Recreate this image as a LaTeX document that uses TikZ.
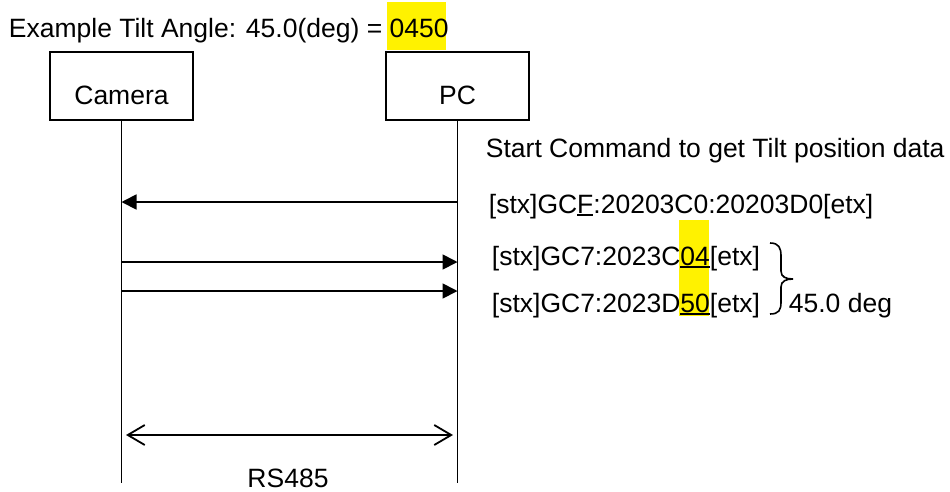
\documentclass[tikz,border=0pt]{standalone}
\usepackage{fontspec}
\setmainfont{Liberation Sans}
\usetikzlibrary{arrows.meta,decorations.pathreplacing}
\newcommand\myul[1]{\setbox0\hbox{#1}\rlap{\rule[-2.5pt]{\wd0}{1.6pt}}\box0}
\begin{document}
\begin{tikzpicture}[x=1pt,y=-1pt,
  font=\fontsize{26.5}{32}\selectfont, line width=1.8pt,
  actor/.style={draw, minimum width=143pt, minimum height=68pt, inner sep=0pt, text height=37pt, text depth=0pt},
  lbl/.style={anchor=base west, inner sep=0pt},
  msg/.style={-{Triangle[length=15pt,width=15pt]}},
  bus/.style={{Straight Barb[length=17pt,width=20pt]}-{Straight Barb[length=17pt,width=20pt]}},
  hl/.style={fill=yellow, draw=none},
  bracestyle/.style={line width=1.6pt}]
\useasboundingbox (0,0) rectangle (950,491);
% highlights
\fill[hl] (387,2) rectangle (446,50);
\fill[hl] (679,220) rectangle (709,316);
% title
\node[lbl] (title) at (8,37) {Example Tilt Angle: 45.0(deg) = 0450};
% actors
\node[actor] (cam) at (121.5,86) {Camera};
\node[actor] (pc) at (457.5,86) {PC};
\coordinate (camend) at (121.5,483);
\coordinate (pcend) at (457.5,483);
\draw (cam.south) -- (camend);
\draw (pc.south) -- (pcend);
% message coordinates
\coordinate (c1) at (121.5,202); \coordinate (p1) at (457.5,202);
\coordinate (c2) at (121.5,262); \coordinate (p2) at (457.5,262);
\coordinate (c3) at (121.5,291); \coordinate (p3) at (457.5,291);
\coordinate (busL) at (126,435); \coordinate (busR) at (453,435);
\draw[msg] (p1) -- (c1);
\draw[msg] (c2) -- (p2);
\draw[msg] (c3) -- (p3);
\draw[bus] (busL) -- (busR);
% labels
\node[lbl] (start) at (485,157) {Start Command to get Tilt position data};
\node[lbl] (cmd) at (488,213) {[stx]GC\myul{F}:20203C0:20203D0[etx]};
\node[lbl] (r1) at (491,265) {[stx]GC7:2023C\myul{04}[etx]};
\node[lbl] (r2) at (491,312) {[stx]GC7:2023D\myul{50}[etx]};
\node[lbl] (deg) at (788,312) {45.0 deg};
\node[anchor=base, inner sep=0pt] (rs) at (288,487) {RS485};
% brace
\coordinate (bt) at (770,243); \coordinate (bb) at (770,314); \coordinate (btip) at (793,279);
\draw[bracestyle] (bt) .. controls (779,243) and (781,248) .. (781,256)
  -- (781,271) .. controls (781,277) and (786,279) .. (btip)
  .. controls (786,279) and (781,281) .. (781,287)
  -- (781,302) .. controls (781,310) and (779,314) .. (bb);
\end{tikzpicture}
\end{document}
